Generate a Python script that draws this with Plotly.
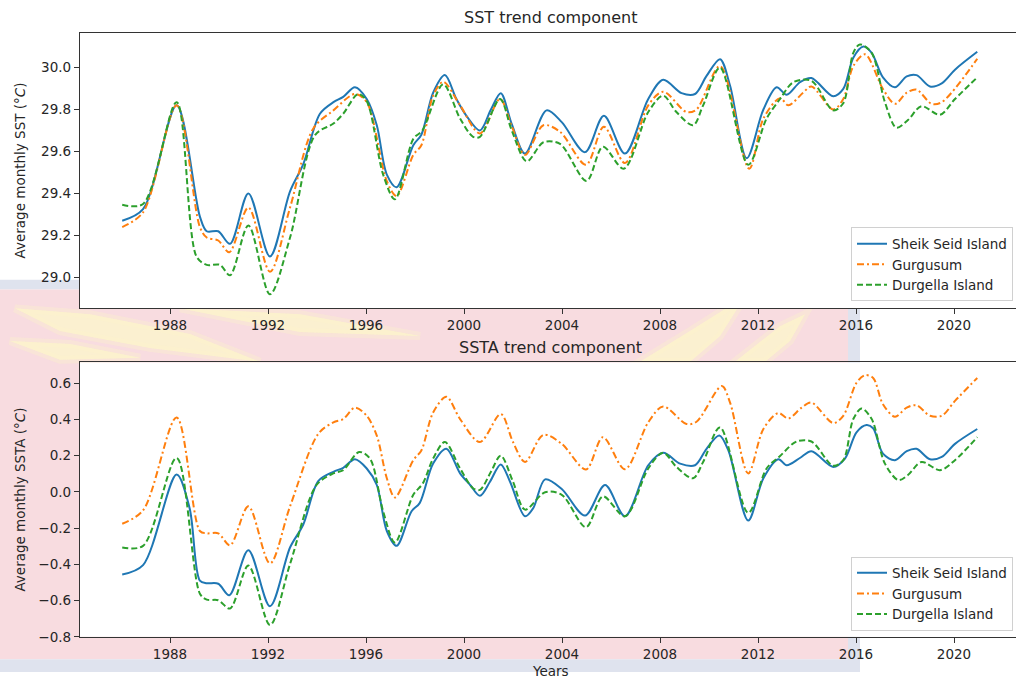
import plotly.graph_objects as go

# ---------------- SST trend component (°C) ----------------
sst_sheik_years = [1986.05, 1986.9, 1988.27, 1989.22, 1989.5, 1989.97, 1990.45, 1991.2, 1992.08,
                   1992.9, 1993.44, 1994.12, 1994.67, 1995.07, 1995.55, 1996.03, 1996.44, 1996.85,
                   1997.25, 1997.93, 1998.26, 1998.74, 1999.22, 1999.69, 2000.1, 2000.65, 2001.1,
                   2001.5, 2001.95, 2002.49, 2003.37, 2003.99, 2004.94, 2005.71, 2006.57, 2007.52,
                   2008.13, 2008.88, 2009.43, 2009.9, 2010.45, 2010.86, 2011.54, 2012.22, 2012.76,
                   2013.17, 2013.71, 2014.18, 2015.07, 2015.48, 2015.89, 2016.3, 2016.64, 2017.1,
                   2017.59, 2018.07, 2018.47, 2019.02, 2019.5, 2020.04, 2020.95]
sst_sheik = [29.27, 29.325, 29.82, 29.29, 29.22, 29.22, 29.16, 29.40, 29.10,
             29.41, 29.54, 29.78, 29.835, 29.86, 29.906, 29.85, 29.725, 29.49,
             29.43, 29.63, 29.68, 29.88, 29.964, 29.85, 29.77, 29.70, 29.80,
             29.878, 29.73, 29.59, 29.796, 29.74, 29.597, 29.77, 29.59, 29.85,
             29.942, 29.878, 29.874, 29.96, 30.04, 29.913, 29.568, 29.80, 29.906,
             29.87, 29.93, 29.95, 29.863, 29.898, 30.047, 30.10, 30.07, 29.953,
             29.906, 29.958, 29.964, 29.91, 29.925, 29.99, 30.075]

sst_gurg_years = [1986.05, 1986.9, 1988.27, 1989.22, 1989.5, 1989.97, 1990.42, 1991.2, 1992.08,
                  1992.9, 1993.85, 1994.67, 1995.55, 1996.03, 1996.85, 1997.25, 1997.93, 1998.26,
                  1998.74, 1999.15, 1999.84, 2000.65, 2001.47, 2001.95, 2002.49, 2003.24, 2003.92,
                  2004.98, 2005.71, 2006.57, 2007.52, 2008.13, 2009.08, 2009.49, 2010.45, 2011.64,
                  2012.22, 2012.9, 2013.24, 2013.84, 2014.18, 2015.07, 2015.48, 2015.89, 2016.37,
                  2017.1, 2017.59, 2018.07, 2018.47, 2019.09, 2019.5, 2020.95]
sst_gurg = [29.24, 29.31, 29.82, 29.24, 29.19, 29.176, 29.12, 29.333, 29.027,
            29.333, 29.71, 29.796, 29.874, 29.835, 29.459, 29.388, 29.584, 29.63,
            29.866, 29.932, 29.82, 29.686, 29.85, 29.72, 29.584, 29.725, 29.694,
            29.537, 29.718, 29.545, 29.82, 29.885, 29.788, 29.80, 30.007, 29.518,
            29.757, 29.854, 29.82, 29.88, 29.91, 29.80, 29.85, 30.007, 30.063,
            29.898, 29.827, 29.88, 29.895, 29.827, 29.835, 30.042]

sst_durg_years = [1986.05, 1986.9, 1988.27, 1989.08, 1989.5, 1990.04, 1990.45, 1991.2, 1992.08,
                  1992.9, 1993.92, 1994.67, 1995.07, 1995.68, 1996.03, 1996.7, 1997.18, 1997.93,
                  1998.3, 1999.15, 1999.84, 2000.37, 2000.65, 2001.47, 2001.95, 2002.56, 2003.24,
                  2003.92, 2005.0, 2005.67, 2006.52, 2007.52, 2008.13, 2008.67, 2009.35, 2009.76,
                  2010.45, 2011.6, 2012.35, 2012.9, 2013.44, 2014.18, 2015.07, 2015.48, 2015.89,
                  2016.16, 2016.64, 2017.18, 2017.65, 2018.12, 2018.67, 2019.43, 2020.04, 2020.95]
sst_durg = [29.346, 29.35, 29.835, 29.10, 29.06, 29.06, 29.01, 29.247, 28.92,
            29.19, 29.678, 29.733, 29.78, 29.874, 29.84, 29.49, 29.372, 29.66,
            29.70, 29.92, 29.757, 29.67, 29.67, 29.85, 29.70, 29.553, 29.644,
            29.636, 29.46, 29.623, 29.518, 29.788, 29.866, 29.788, 29.725, 29.82,
            30.0, 29.537, 29.757, 29.85, 29.93, 29.937, 29.796, 29.83, 30.07,
            30.11, 30.07, 29.835, 29.713, 29.75, 29.816, 29.775, 29.85, 29.953]

# ---------------- SSTA trend component (°C) ----------------
ssta_sheik_years = [1986.05, 1986.9, 1988.27, 1988.8, 1989.22, 1989.5, 1989.97, 1990.42, 1991.2,
                    1992.08, 1992.9, 1993.44, 1994.05, 1994.67, 1995.07, 1995.55, 1996.03, 1996.44,
                    1996.85, 1997.25, 1997.86, 1998.19, 1998.74, 1999.28, 1999.84, 2000.25, 2000.65,
                    2001.06, 2001.5, 2001.88, 2002.49, 2002.83, 2003.31, 2003.99, 2004.94, 2005.76,
                    2006.57, 2007.52, 2008.13, 2008.82, 2009.43, 2009.9, 2010.42, 2010.79, 2011.6,
                    2012.22, 2012.83, 2013.17, 2013.71, 2014.18, 2015.07, 2015.55, 2016.02, 2016.43,
                    2016.7, 2017.1, 2017.59, 2018.07, 2018.47, 2019.02, 2019.5, 2020.04, 2020.95]
ssta_sheik = [-0.456, -0.404, 0.096, -0.09, -0.49, -0.504, -0.507, -0.571, -0.322,
              -0.631, -0.307, -0.18, 0.06, 0.111, 0.133, 0.18, 0.129, 0.038,
              -0.216, -0.298, -0.107, -0.062, 0.156, 0.238, 0.102, 0.038, -0.022,
              0.056, 0.151, 0.056, -0.135, -0.089, 0.069, 0.016, -0.131, 0.038,
              -0.135, 0.147, 0.216, 0.156, 0.147, 0.238, 0.311, 0.229, -0.158,
              0.075, 0.18, 0.147, 0.187, 0.224, 0.138, 0.184, 0.329, 0.369,
              0.351, 0.211, 0.175, 0.225, 0.238, 0.18, 0.193, 0.265, 0.347]

ssta_gurg_years = [1986.05, 1986.9, 1988.27, 1989.22, 1989.5, 1989.97, 1990.45, 1991.2, 1992.08,
                   1992.9, 1994.05, 1994.67, 1995.07, 1995.55, 1996.03, 1996.44, 1996.85, 1997.18,
                   1997.93, 1998.26, 1998.74, 1999.28, 1999.84, 2000.65, 2001.5, 2002.0, 2002.49,
                   2003.24, 2003.99, 2004.98, 2005.67, 2006.57, 2007.52, 2008.13, 2009.08, 2009.49,
                   2010.52, 2010.86, 2011.6, 2012.22, 2012.83, 2013.24, 2013.78, 2014.18, 2015.07,
                   2015.48, 2016.02, 2016.37, 2016.7, 2017.1, 2017.59, 2018.07, 2018.47, 2019.02,
                   2019.5, 2020.04, 2020.95]
ssta_gurg = [-0.176, -0.102, 0.411, -0.216, -0.229, -0.229, -0.295, -0.08, -0.395,
             -0.08, 0.32, 0.384, 0.402, 0.465, 0.42, 0.311, 0.075, -0.031,
             0.175, 0.229, 0.438, 0.525, 0.402, 0.275, 0.43, 0.275, 0.165,
             0.315, 0.265, 0.124, 0.302, 0.125, 0.384, 0.471, 0.375, 0.387,
             0.584, 0.493, 0.102, 0.347, 0.435, 0.405, 0.465, 0.493, 0.38,
             0.42, 0.602, 0.644, 0.629, 0.484, 0.415, 0.465, 0.478, 0.42,
             0.42, 0.502, 0.629]

ssta_durg_years = [1986.05, 1986.9, 1988.27, 1989.22, 1989.5, 1989.97, 1990.45, 1991.2, 1992.08,
                   1992.9, 1993.98, 1994.67, 1995.07, 1995.72, 1996.16, 1996.7, 1997.18, 1997.93,
                   1998.32, 1998.74, 1999.22, 1999.84, 2000.37, 2000.65, 2001.1, 2001.5, 2002.0,
                   2002.49, 2003.31, 2003.99, 2004.98, 2005.67, 2006.57, 2007.52, 2008.13, 2008.67,
                   2009.35, 2009.76, 2010.45, 2011.6, 2012.35, 2012.9, 2013.57, 2014.18, 2015.07,
                   2015.48, 2015.89, 2016.23, 2016.64, 2017.18, 2017.73, 2018.12, 2018.67, 2019.43,
                   2020.04, 2020.95]
ssta_durg = [-0.307, -0.298, 0.187, -0.562, -0.595, -0.598, -0.644, -0.407, -0.735,
             -0.398, 0.038, 0.102, 0.12, 0.22, 0.184, -0.107, -0.28, -0.016,
             0.047, 0.184, 0.275, 0.129, 0.02, 0.011, 0.111, 0.2, 0.056,
             -0.098, -0.002, -0.016, -0.195, -0.025, -0.135, 0.129, 0.216, 0.138,
             0.075, 0.165, 0.356, -0.116, 0.129, 0.198, 0.278, 0.278, 0.144,
             0.175, 0.402, 0.46, 0.402, 0.156, 0.065, 0.093, 0.165, 0.12,
             0.175, 0.302]

station_names = ["Sheik Seid Island", "Gurgusum", "Durgella Island"]
year_ticks = [1988, 1992, 1996, 2000, 2004, 2008, 2012, 2016, 2020]
sst_ticks = [29.0, 29.2, 29.4, 29.6, 29.8, 30.0]
ssta_ticks = [-0.8, -0.6, -0.4, -0.2, 0.0, 0.2, 0.4, 0.6]

colors = ["#1f77b4", "#ff7f0e", "#2ca02c"]
dashes = ["solid", "7px,3px,2px,3px", "6px,3px"]

W, H = 1016, 687
FONT = "DejaVu Sans"

fig = go.Figure()

top_series = [(sst_sheik_years, sst_sheik), (sst_gurg_years, sst_gurg), (sst_durg_years, sst_durg)]
bot_series = [(ssta_sheik_years, ssta_sheik), (ssta_gurg_years, ssta_gurg), (ssta_durg_years, ssta_durg)]

for i, (xs, ys) in enumerate(top_series):
    fig.add_trace(go.Scatter(
        x=xs, y=ys, mode="lines", name=station_names[i],
        line=dict(color=colors[i], width=2, dash=dashes[i], shape="spline", smoothing=0.9),
        xaxis="x", yaxis="y", legend="legend"))
for i, (xs, ys) in enumerate(bot_series):
    fig.add_trace(go.Scatter(
        x=xs, y=ys, mode="lines", name=station_names[i],
        line=dict(color=colors[i], width=2, dash=dashes[i], shape="spline", smoothing=0.9),
        xaxis="x2", yaxis="y2", legend="legend2"))

# pixel helpers (figure pixels -> paper fraction)
def px(x):
    return x / W

def py(y):
    return 1 - y / H

x_left, x_right = 80, 1016
top_y0, top_y1 = 33.3, 311.7
bot_y0, bot_y1 = 366.7, 644.3
x_range = [1988 - (170 - x_left) / 24.5, 1988 + (x_right - 170) / 24.5]

axis_common = dict(
    showline=True, linecolor="#333333", linewidth=1.3,
    ticks="outside", ticklen=5, tickwidth=1.2, tickcolor="#333333",
    showgrid=False, zeroline=False,
    tickfont=dict(family=FONT, size=13.5, color="#262626"),
)

fig.update_layout(
    width=W, height=H,
    margin=dict(l=0, r=0, t=0, b=0),
    paper_bgcolor="white", plot_bgcolor="white",
    font=dict(family=FONT, color="#262626"),
    xaxis=dict(domain=[px(x_left), 1], range=x_range, tickvals=year_ticks,
               mirror=True, anchor="y", **axis_common),
    yaxis=dict(domain=[py(top_y1), py(top_y0)], range=[28.854, 30.165], tickvals=sst_ticks,
               tickformat=".1f", anchor="x", **axis_common),
    xaxis2=dict(domain=[px(x_left), 1], range=x_range, tickvals=year_ticks,
                mirror=True, anchor="y2", **axis_common),
    yaxis2=dict(domain=[py(bot_y1), py(bot_y0)], range=[-0.8, 0.7146], tickvals=ssta_ticks,
                tickformat=".1f", anchor="x2", **axis_common),
    legend=dict(x=px(1013), y=py(305), xanchor="right", yanchor="bottom",
                bgcolor="rgba(255,255,255,0.85)", bordercolor="#d0d0d0", borderwidth=1,
                font=dict(family=FONT, size=13.5, color="#262626"),
                itemwidth=30, tracegroupgap=0),
    legend2=dict(x=px(1013), y=py(638), xanchor="right", yanchor="bottom",
                 bgcolor="rgba(255,255,255,0.85)", bordercolor="#d0d0d0", borderwidth=1,
                 font=dict(family=FONT, size=13.5, color="#262626"),
                 itemwidth=30, tracegroupgap=0),
)

# background emblem behind the two panels
pink = "#f8dce0"
haze = "#dfe3ee"
shapes = [
    dict(type="rect", x0=0, x1=px(848), y0=py(293), y1=py(283), fillcolor=haze, line_width=0),
    dict(type="rect", x0=0, x1=px(848), y0=py(667), y1=py(293), fillcolor=pink, line_width=0),
    dict(type="rect", x0=px(848), x1=px(860), y0=py(680), y1=py(293), fillcolor=haze, line_width=0),
    dict(type="rect", x0=0, x1=px(860), y0=py(680), y1=py(667), fillcolor=haze, line_width=0),
]
# soft yellow rays of the emblem: a wide faint layer plus a narrower brighter core
rays = [
    [(15, 312), (90, 318), (190, 338), (260, 366), (150, 352), (60, 335)],
    [(10, 345), (70, 348), (140, 362), (60, 364)],
    [(180, 312), (300, 318), (420, 340), (300, 336)],
    [(640, 366), (690, 335), (745, 300), (720, 340), (690, 366)],
    [(735, 366), (780, 330), (805, 318), (790, 345), (765, 366)],
]
for r in rays:
    path = "M " + " L ".join(f"{px(a)},{py(b)}" for a, b in r) + " Z"
    shapes.append(dict(type="path", path=path, fillcolor="rgba(252,244,200,0.55)",
                       line=dict(color="rgba(252,244,200,0.35)", width=8)))
    shapes.append(dict(type="path", path=path, fillcolor="rgba(253,248,205,0.45)", line_width=0))
# white axes faces on top of the emblem
shapes += [
    dict(type="rect", x0=px(x_left), x1=1, y0=py(top_y1), y1=py(top_y0), fillcolor="white", line_width=0),
    dict(type="rect", x0=px(x_left), x1=1, y0=py(bot_y1), y1=py(bot_y0), fillcolor="white", line_width=0),
]
for s in shapes:
    s.setdefault("xref", "paper")
    s.setdefault("yref", "paper")
    s["layer"] = "below"
fig.update_layout(shapes=shapes)

center_x = px(550.5)
annotations = [
    dict(text="SST trend component", x=center_x, y=py(18), font=dict(size=16)),
    dict(text="SSTA trend component", x=center_x, y=py(352), font=dict(size=16)),
    dict(text="Years", x=center_x, y=py(679), font=dict(size=13.5)),
    dict(text="Average monthly SST (°<i>C</i>)", x=px(20), y=py(172.5), textangle=-90,
         font=dict(size=13.5)),
    dict(text="Average monthly SSTA (°<i>C</i>)", x=px(20), y=py(505.5), textangle=-90,
         font=dict(size=13.5)),
]
for a in annotations:
    a.update(xref="paper", yref="paper", showarrow=False, xanchor="center", yanchor="middle")
    a["font"].update(family=FONT, color="#262626")
fig.update_layout(annotations=annotations)

fig.write_html("out.html")
